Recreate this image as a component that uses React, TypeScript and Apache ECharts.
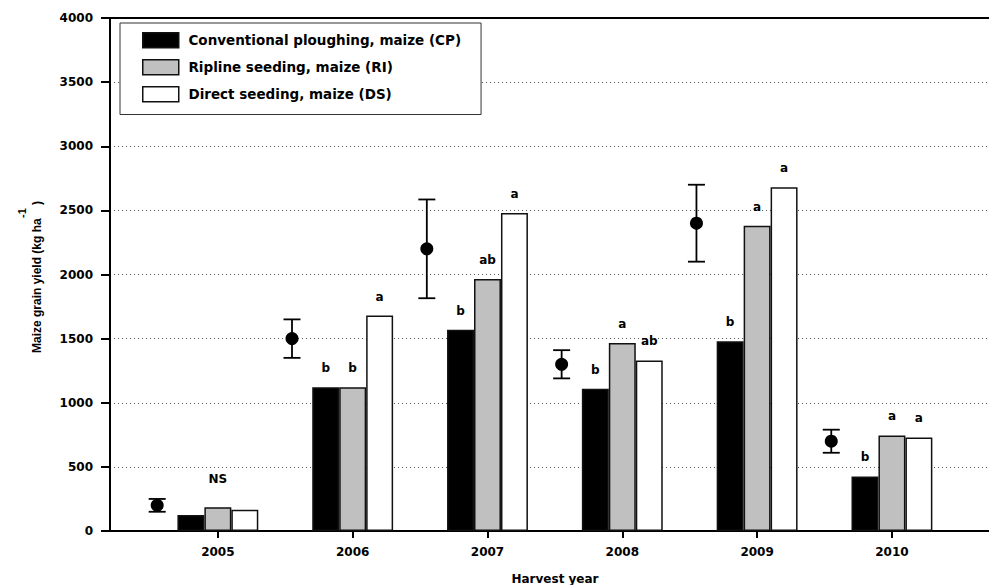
import React, { useEffect, useRef } from "react";
import * as echarts from "echarts";

const years = [2005, 2006, 2007, 2008, 2009, 2010];
const cpYield = [125, 1120, 1570, 1110, 1480, 425];
const riYield = [185, 1120, 1965, 1465, 2380, 745];
const dsYield = [165, 1680, 2480, 1330, 2680, 730];
const cpLetters = ["", "b", "b", "b", "b", "b"];
const riLetters = ["NS", "b", "ab", "a", "a", "a"];
const dsLetters = ["", "a", "a", "ab", "a", "a"];
const meanYield = [200, 1500, 2200, 1300, 2400, 700];
const meanErr = [50, 150, 385, 110, 300, 90];
const yTicks = [0, 500, 1000, 1500, 2000, 2500, 3000, 3500, 4000];

const seriesNames = [
  "Conventional ploughing, maize (CP)",
  "Ripline seeding, maize (RI)",
  "Direct seeding, maize (DS)",
];

const POINT_OFFSET = 0.45;
const FONT = "DejaVu Sans";

export default function App() {
  const ref = useRef<HTMLDivElement>(null);
  useEffect(() => {
    if (!ref.current) return;
    const chart = echarts.init(ref.current, null, { renderer: "svg" });
    const labelStyle = {
      show: true,
      position: "top",
      distance: 13,
      fontFamily: FONT,
      fontWeight: "bold",
      fontSize: 12,
      color: "#000",
    };
    const mkBar = (name: string, vals: number[], letters: string[], color: string) => ({
      name,
      type: "bar",
      barWidth: "20%",
      barGap: "0%",
      data: years.map((y, i) =>
        letters[i] === "NS" ? { value: [y, vals[i]], label: { distance: 22 } } : [y, vals[i]]
      ),
      itemStyle: { color, borderColor: "#111", borderWidth: 1.5 },
      label: { ...labelStyle, formatter: (p: any) => letters[p.dataIndex] },
      z: 3,
    });
    const option: any = {
      animation: false,
      backgroundColor: "#fff",
      grid: { left: 110, right: 0, top: 18, bottom: 54 },
      legend: {
        orient: "vertical",
        left: 120,
        top: 23,
        data: seriesNames,
        icon: "rect",
        itemWidth: 36,
        itemHeight: 15,
        itemGap: 10.5,
        padding: [9, 20, 12, 22],
        borderColor: "#333",
        borderWidth: 1,
        backgroundColor: "#fff",
        formatter: (n: string) => " " + n,
        textStyle: { fontFamily: FONT, fontWeight: "bold", fontSize: 13.5, color: "#000" },
        itemStyle: { borderColor: "#111", borderWidth: 1.5 },
      },
      xAxis: [
        {
          type: "value",
          min: 2004.2,
          max: 2010.72,
          axisLine: { show: true, lineStyle: { color: "#000", width: 2 } },
          axisTick: {
            show: true,
            length: 7,
            customValues: years,
            lineStyle: { color: "#000", width: 2 },
          },
          axisLabel: {
            customValues: years,
            formatter: (v: number) => String(v),
            margin: 15,
            fontFamily: FONT,
            fontWeight: "bold",
            fontSize: 12,
            color: "#000",
          },
          splitLine: { show: false },
        },
        {
          type: "value",
          position: "top",
          min: 2004.2,
          max: 2010.72,
          axisLine: { show: true, lineStyle: { color: "#000", width: 2 } },
          axisTick: { show: false },
          axisLabel: { show: false },
          splitLine: { show: false },
        },
      ],
      yAxis: {
        type: "value",
        min: yTicks[0],
        max: yTicks[yTicks.length - 1],
        interval: 500,
        axisLine: { show: true, lineStyle: { color: "#000", width: 2 } },
        axisTick: { show: true, length: 9, lineStyle: { color: "#000", width: 2 } },
        axisLabel: {
          margin: 17,
          formatter: (v: number) => String(v),
          fontFamily: FONT,
          fontWeight: "bold",
          fontSize: 12,
          color: "#000",
        },
        splitLine: { show: true, lineStyle: { type: [1, 3], color: "#555", width: 1 } },
      },
      graphic: [
        {
          type: "text",
          x: 37,
          y: 353,
          rotation: Math.PI / 2,
          style: {
            text: "Maize grain yield (kg ha    )",
            fontFamily: "Liberation Sans",
            fontWeight: "bold",
            fontSize: 12,
            fill: "#000",
            align: "left",
            verticalAlign: "middle",
          },
        },
        {
          type: "text",
          x: 22,
          y: 213,
          rotation: Math.PI / 2,
          style: {
            text: "-1",
            fontFamily: "Liberation Sans",
            fontWeight: "bold",
            fontSize: 11,
            fill: "#000",
            align: "center",
            verticalAlign: "middle",
          },
        },
        {
          type: "text",
          x: 555,
          y: 579,
          style: {
            text: "Harvest year",
            fontFamily: FONT,
            fontWeight: "bold",
            fontSize: 12,
            fill: "#000",
            align: "center",
            verticalAlign: "middle",
          },
        },
      ],
      series: [
        mkBar(seriesNames[0], cpYield, cpLetters, "#000"),
        mkBar(seriesNames[1], riYield, riLetters, "#c0c0c0"),
        mkBar(seriesNames[2], dsYield, dsLetters, "#fff"),
        {
          name: "errorbars",
          type: "custom",
          data: years.map((y, i) => [y - POINT_OFFSET, meanYield[i] - meanErr[i], meanYield[i] + meanErr[i]]),
          encode: { x: 0, y: [1, 2] },
          renderItem: (params: any, api: any) => {
            const x = api.value(0);
            const lo = api.coord([x, api.value(1)]);
            const hi = api.coord([x, api.value(2)]);
            const hw = 8.5;
            const st = { stroke: "#000", lineWidth: 1.8 };
            return {
              type: "group",
              children: [
                { type: "line", shape: { x1: lo[0], y1: lo[1], x2: hi[0], y2: hi[1] }, style: st },
                { type: "line", shape: { x1: lo[0] - hw, y1: lo[1], x2: lo[0] + hw, y2: lo[1] }, style: st },
                { type: "line", shape: { x1: hi[0] - hw, y1: hi[1], x2: hi[0] + hw, y2: hi[1] }, style: st },
              ],
            };
          },
          z: 4,
        },
        {
          name: "mean",
          type: "scatter",
          symbol: "circle",
          symbolSize: 13,
          data: years.map((y, i) => [y - POINT_OFFSET, meanYield[i]]),
          itemStyle: { color: "#000", opacity: 1 },
          z: 5,
        },
      ],
    };
    chart.setOption(option);
    return () => chart.dispose();
  }, []);
  return (
    <div
      ref={ref}
      style={{ position: "fixed", left: 0, top: 0, width: 989, height: 585, background: "#fff" }}
    />
  );
}
